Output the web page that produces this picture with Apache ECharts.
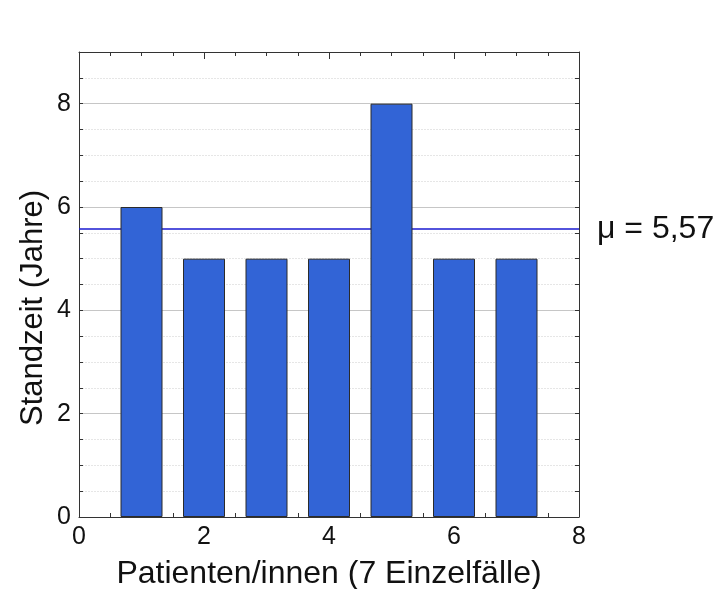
<!DOCTYPE html>
<html>
<head>
<meta charset="utf-8">
<script src="https://cdn.jsdelivr.net/npm/echarts@6/dist/echarts.min.js"></script>
<style>
  html, body { margin: 0; padding: 0; background: #fff; }
  #chart { width: 720px; height: 589px; }
</style>
</head>
<body>
<div id="chart"></div>
<script>
// Patient index and service life in years
const patients = [1, 2, 3, 4, 5, 6, 7];
const serviceYears = [6, 5, 5, 5, 8, 5, 5];
const xTicks = [0, 2, 4, 6, 8];
const yTicks = [0, 2, 4, 6, 8];

const meanYears = serviceYears.reduce((a, b) => a + b, 0) / serviceYears.length;
const meanLabel = 'μ = ' + meanYears.toFixed(2).replace('.', ',');

const FONT = 'Liberation Sans, Arial, sans-serif';
const AXIS_COLOR = '#333';

const chart = echarts.init(document.getElementById('chart'), null, { renderer: 'canvas' });

const xBase = {
  type: 'value', min: 0, max: 8, interval: 2,
  axisLine: { show: true, onZero: false, lineStyle: { color: AXIS_COLOR, width: 1 } },
  axisTick: { show: true, inside: true, length: 7, lineStyle: { color: AXIS_COLOR } },
  minorTick: { show: true, splitNumber: 4, length: 4, lineStyle: { color: AXIS_COLOR } },
  splitLine: { show: false }
};

const yBase = {
  type: 'value', min: 0, max: 9, interval: 0.5,
  axisLine: { show: true, onZero: false, lineStyle: { color: AXIS_COLOR, width: 1 } },
  axisTick: { show: true, inside: true, length: 4, lineStyle: { color: AXIS_COLOR } }
};

chart.setOption({
  animation: false,
  backgroundColor: '#fff',
  grid: { left: 79, right: 141, top: 52, bottom: 72, containLabel: false },
  xAxis: [
    Object.assign({}, xBase, {
      position: 'bottom',
      axisLabel: {
        show: true, margin: 8, color: '#111', fontFamily: FONT, fontSize: 25,
        formatter: v => (xTicks.includes(v) ? String(v) : '')
      }
    }),
    Object.assign({}, xBase, { position: 'top', axisLabel: { show: false } })
  ],
  yAxis: [
    Object.assign({}, yBase, {
      position: 'left',
      axisLabel: {
        show: true, margin: 8, color: '#111', fontFamily: FONT, fontSize: 25,
        formatter: v => (yTicks.includes(v) ? String(v) : '')
      },
      splitLine: { show: true, lineStyle: { color: '#e6e6e6', type: [2, 1], width: 1 } }
    }),
    Object.assign({}, yBase, {
      position: 'right',
      axisLabel: { show: false },
      splitLine: { show: false }
    }),
    {
      // darker gridlines at the labelled values
      type: 'value', min: 0, max: 9, interval: 2, position: 'left',
      axisLine: { show: false }, axisTick: { show: false }, axisLabel: { show: false },
      splitLine: { show: true, lineStyle: { color: '#c6c6c6', width: 1 } }
    }
  ],
  series: [
    {
      type: 'bar',
      xAxisIndex: 0,
      yAxisIndex: 0,
      z: 5,
      barWidth: 42,
      data: patients.map((p, i) => [p, serviceYears[i]]),
      itemStyle: { color: '#3264d6', borderColor: '#2b2b2b', borderWidth: 1 },
      markLine: {
        silent: true,
        symbol: ['none', 'none'],
        lineStyle: { color: '#1a1ad0', width: 1.5, type: 'solid' },
        label: {
          show: true, position: 'end', distance: 18,
          formatter: meanLabel, color: '#111', fontFamily: FONT, fontSize: 32
        },
        data: [{ yAxis: meanYears }]
      }
    }
  ],
  graphic: [
    {
      type: 'text',
      x: 329, y: 574,
      style: {
        text: 'Patienten/innen (7 Einzelfälle)',
        fontFamily: FONT, fontSize: 32, fill: '#111',
        textAlign: 'center', textVerticalAlign: 'middle'
      }
    },
    {
      type: 'text',
      x: 33, y: 308,
      rotation: Math.PI / 2,
      style: {
        text: 'Standzeit (Jahre)',
        fontFamily: FONT, fontSize: 31, fill: '#111',
        textAlign: 'center', textVerticalAlign: 'middle'
      }
    }
  ]
});
</script>
</body>
</html>
